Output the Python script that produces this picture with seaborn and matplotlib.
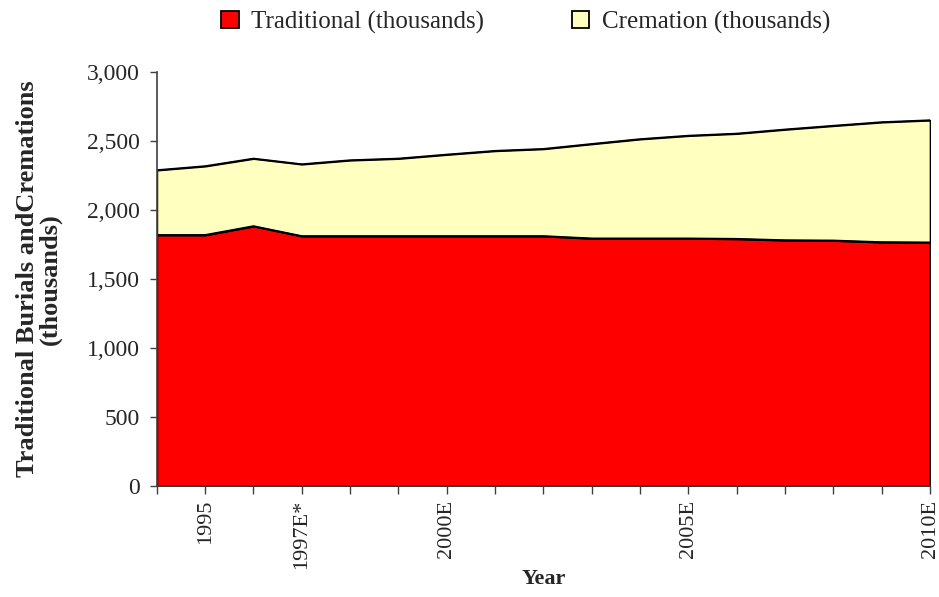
import matplotlib
matplotlib.use("Agg")
import matplotlib.pyplot as plt
import matplotlib.ticker as mticker
from matplotlib.transforms import Bbox, TransformedBbox
import pandas as pd
import seaborn as sns

# Jahre und Werte (Tausend)
years = list(range(1994, 2011))
traditional = [1820, 1820, 1884, 1812, 1812, 1812, 1812, 1812, 1812,
               1795, 1795, 1795, 1792, 1782, 1780, 1768, 1766]
cremation = [470, 499, 490, 521, 550, 562, 591, 618, 632,
             685, 720, 745, 763, 803, 832, 870, 886]
tick_labels = ["", "1995", "", "1997E*", "", "", "2000E", "", "", "", "",
               "2005E", "", "", "", "", "2010E"]
series_names = ["Traditional (thousands)", "Cremation (thousands)"]
series_colors = ["#FF0000", "#FFFFC0"]

df = pd.DataFrame({"Year": years, "Traditional": traditional, "Cremation": cremation})
df["Total"] = df["Traditional"] + df["Cremation"]

sns.set_style("ticks")
plt.rcParams["font.family"] = ["Liberation Serif", "DejaVu Serif"]

fig = plt.figure(figsize=(9.39, 5.97), dpi=100)
ax = fig.add_axes([0.167, 0.186, 0.8235, 0.693])

polys = ax.stackplot(df["Year"], df["Traditional"], df["Cremation"],
                     colors=series_colors, edgecolor="black", linewidth=1.3)
sns.lineplot(data=df, x="Year", y="Total", color="black", linewidth=1.3,
             legend=False, ax=ax)
sns.lineplot(data=df, x="Year", y="Traditional", color="black", linewidth=1.3,
             legend=False, ax=ax)

ax.set_xlim(1994, 2010)
ax.set_ylim(0, 3000)
ax.set_xticks(years)
ax.set_xticklabels(tick_labels, rotation=90, fontsize=16)
ax.yaxis.set_major_locator(mticker.MultipleLocator(500))
ax.yaxis.set_major_formatter(mticker.StrMethodFormatter("{x:,.0f}"))
ax.tick_params(axis="y", labelsize=17, length=5, width=1, color="#404040", pad=7)
ax.tick_params(axis="x", length=6, width=1, color="#404040", pad=4)

ax.set_xlabel("Year", fontsize=16, fontweight="bold", labelpad=0)
ax.set_ylabel("Traditional Burials andCremations\n(thousands)",
              fontsize=19, fontweight="bold", labelpad=18, linespacing=1.0)
# Beschriftung oben abschneiden wie im Original
clip = TransformedBbox(Bbox([[0, 0], [1, 0.875]]), fig.transFigure)
ax.yaxis.label.set_clip_box(clip)
ax.yaxis.label.set_clip_on(True)

sns.despine(ax=ax, top=True, right=True)
for side in ["left", "bottom"]:
    ax.spines[side].set_color("#404040")
    ax.spines[side].set_linewidth(1.2)

fig.legend(polys, series_names, loc="center", bbox_to_anchor=(0.56, 0.963),
           ncol=2, frameon=False, fontsize=18, handlelength=0.7, handleheight=0.7,
           columnspacing=3.5, handletextpad=0.5)

fig.savefig("out.png", dpi=100)
